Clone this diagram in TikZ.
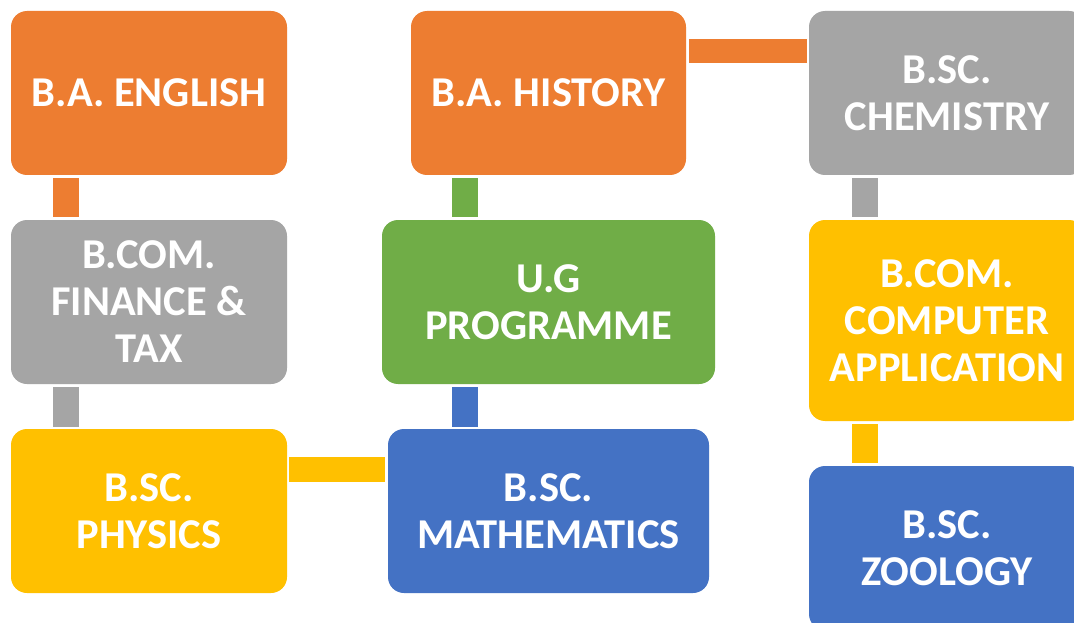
\documentclass[tikz,border=0pt]{standalone}
\usepackage{fontspec}
\setmainfont{Carlito}
\usetikzlibrary{calc}
\definecolor{cOrange}{HTML}{ED7D31}
\definecolor{cGray}{HTML}{A5A5A5}
\definecolor{cGreen}{HTML}{70AD47}
\definecolor{cYellow}{HTML}{FFC000}
\definecolor{cBlue}{HTML}{4472C4}
\tikzset{
  box/.style={rectangle, rounded corners=16pt, inner sep=0pt, text=white,
    align=center, minimum height=164pt,
    font=\fontsize{42.5}{47}\selectfont\bfseries},
  bar/.style={line width=26pt},
  hbar/.style={line width=25pt}
}
\begin{document}
\begin{tikzpicture}[x=1pt,y=-1pt]
\useasboundingbox (0,0) rectangle (1074,623);
\clip (0,0) rectangle (1074,623);
\fill[white] (0,0) rectangle (1074,623);
% boxes
\node[box, fill=cOrange, minimum width=276pt] (eng) at (149,93) {B.A. ENGLISH};
\node[box, fill=cOrange, minimum width=275pt] (his) at (548.5,93) {B.A. HISTORY};
\node[box, fill=cGray, minimum width=276pt] (chem) at (947,93) {B.SC.\\CHEMISTRY};
\node[box, fill=cGray, minimum width=276pt] (fin) at (149,302) {B.COM.\\FINANCE \&\\TAX};
\node[box, fill=cGreen, minimum width=333pt] (ug) at (548.5,302) {U.G\\PROGRAMME};
\node[box, fill=cYellow, minimum width=276pt, minimum height=201pt] (comp) at (947,320.5) {B.COM.\\COMPUTER\\APPLICATION};
\node[box, fill=cYellow, minimum width=276pt] (phy) at (149,511) {B.SC.\\PHYSICS};
\node[box, fill=cBlue, minimum width=321pt] (math) at (548.5,511) {B.SC.\\MATHEMATICS};
\node[box, fill=cBlue, minimum width=276pt] (zoo) at (947,548) {B.SC.\\ZOOLOGY};
% connectors
\draw[bar, cOrange] ($(eng.south west)+(55,3)$) -- ($(fin.north west)+(55,-3)$);
\draw[bar, cGray] ($(fin.south west)+(55,3)$) -- ($(phy.north west)+(55,-2)$);
\draw[bar, cGreen] ($(his.south west)+(54,3)$) -- ($(ug.north west)+(83,-3)$);
\draw[bar, cBlue] ($(ug.south west)+(83,3)$) -- ($(math.north west)+(77,-2)$);
\draw[hbar, cYellow] ($(phy.north east)+(2,40.5)$) -- ($(math.north west)+(-3,40.5)$);
\draw[line width=24pt, cOrange] ($(his.north east)+(3,40)$) -- ($(chem.north west)+(-2,40)$);
\draw[bar, cGray] ($(chem.south west)+(56,3)$) -- ($(comp.north west)+(56,-3)$);
\draw[bar, cYellow] ($(comp.south west)+(56,3)$) -- ($(zoo.north west)+(56,-3)$);
\end{tikzpicture}
\end{document}
